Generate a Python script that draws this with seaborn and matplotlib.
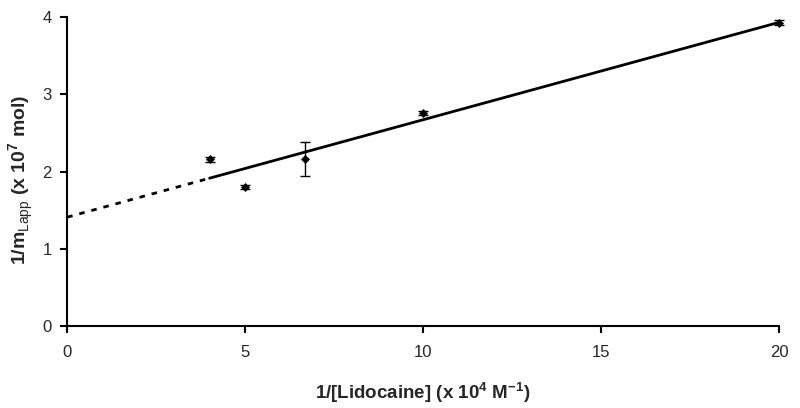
import numpy as np
import pandas as pd
import seaborn as sns
import matplotlib.pyplot as plt

# 1/[Lidocaine] (x 10^4 M^-1) and 1/m_Lapp (x 10^7 mol)
inv_lido = [4.0, 5.0, 6.67, 10.0, 20.0]
inv_m = [2.16, 1.80, 2.16, 2.76, 3.93]
err = [0.03, 0.03, 0.22, 0.03, 0.03]

x_ticks = [0, 5, 10, 15, 20]
y_ticks = [0, 1, 2, 3, 4]

df = pd.DataFrame({'x': inv_lido, 'y': inv_m, 'err': err})

sns.set_theme(style='ticks')
plt.rcParams['font.family'] = ['Liberation Sans', 'DejaVu Sans']
plt.rcParams['mathtext.fontset'] = 'custom'
plt.rcParams['mathtext.rm'] = 'Liberation Sans'

fig = plt.figure(figsize=(8, 4.08), dpi=100)
ax = fig.add_axes([0.084, 0.201, 0.89, 0.757])

# linear fit through the points
slope, intercept = np.polyfit(df['x'], df['y'], 1)
solid = pd.DataFrame({'x': [4, 20]})
solid['y'] = intercept + slope * solid['x']
dashed = pd.DataFrame({'x': [0, 4]})
dashed['y'] = intercept + slope * dashed['x']

sns.lineplot(data=solid, x='x', y='y', ax=ax, color='black', linewidth=2)
sns.lineplot(data=dashed, x='x', y='y', ax=ax, color='black', linewidth=2,
             linestyle=(0, (2, 2.5)))

ax.errorbar(df['x'], df['y'], yerr=df['err'], fmt='none', ecolor='black',
            elinewidth=1, capsize=3.5, capthick=1, clip_on=False, zorder=3)
sns.scatterplot(data=df, x='x', y='y', ax=ax, marker='D', s=18, color='black',
                edgecolor='black', clip_on=False, zorder=4)

ax.set_xlim(0, 20)
ax.set_ylim(0, 4)
ax.set_xticks(x_ticks)
ax.set_yticks(y_ticks)
ax.tick_params(axis='both', labelsize=12, length=5, width=1.5, color='black')
ax.tick_params(axis='x', pad=9)
ax.tick_params(axis='y', pad=6)
for s in ['left', 'bottom']:
    ax.spines[s].set_linewidth(1.5)
    ax.spines[s].set_color('black')
sns.despine(ax=ax)

ax.set_xlabel('1/[Lidocaine] (x 10$^{\\mathregular{4}}$ M$^{\\mathregular{-1}}$)',
              fontsize=13.5, fontweight='bold', labelpad=14)
ax.set_ylabel('1/m$_{\\mathrm{Lapp}}$ (x 10$^{\\mathregular{7}}$ mol)',
              fontsize=14, fontweight='bold')
ax.yaxis.set_label_coords(-0.044, 0.472)

fig.savefig('out.png', dpi=100)
